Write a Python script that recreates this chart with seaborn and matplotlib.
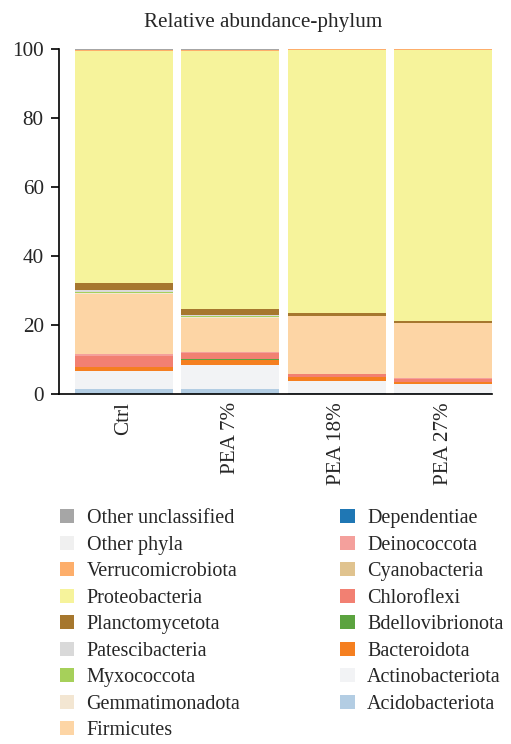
import matplotlib
matplotlib.use("Agg")
import matplotlib.pyplot as plt
from matplotlib.patches import Patch
import numpy as np
import seaborn as sns

groups = ["Ctrl", "PEA 7%", "PEA 18%", "PEA 27%"]

# stacking order: bottom -> top
phyla = ["Acidobacteriota", "Actinobacteriota", "Bacteroidota", "Bdellovibrionota",
         "Chloroflexi", "Cyanobacteria", "Deinococcota", "Dependentiae",
         "Firmicutes", "Gemmatimonadota", "Myxococcota", "Patescibacteria",
         "Planctomycetota", "Proteobacteria", "Verrucomicrobiota",
         "Other phyla", "Other unclassified"]

colors = ["#b3cde3", "#f2f3f5", "#f57f20", "#5ba33f",
          "#f28072", "#e0c38f", "#f4a09c", "#1f77b4",
          "#fdd5a5", "#f3e6d2", "#a6d05a", "#d9d9d9",
          "#a6772e", "#f6f39b", "#fdae6b",
          "#f0f0f0", "#a6a6a6"]

acidobacteriota   = [1.5, 1.4, 0.4, 0.3]
actinobacteriota  = [5.2, 6.9, 3.5, 2.5]
bacteroidota      = [1.2, 1.7, 1.1, 0.8]
bdellovibrionota  = [0.05, 0.05, 0.02, 0.02]
chloroflexi       = [2.95, 1.8, 0.7, 0.8]
cyanobacteria     = [0.1, 0.1, 0.05, 0.05]
deinococcota      = [0.6, 0.3, 0.1, 0.15]
dependentiae      = [0.05, 0.05, 0.03, 0.03]
firmicutes        = [17.2, 9.8, 16.7, 15.85]
gemmatimonadota   = [0.3, 0.2, 0.05, 0.05]
myxococcota       = [0.4, 0.4, 0.05, 0.05]
patescibacteria   = [0.5, 0.3, 0.05, 0.05]
planctomycetota   = [2.0, 1.7, 0.65, 0.6]
proteobacteria    = [67.3, 74.7, 76.2, 78.5]
verrucomicrobiota = [0.3, 0.3, 0.3, 0.15]
other_phyla       = [0.1, 0.1, 0.05, 0.05]
other_unclassified= [0.25, 0.2, 0.05, 0.05]

values = [acidobacteriota, actinobacteriota, bacteroidota, bdellovibrionota,
          chloroflexi, cyanobacteria, deinococcota, dependentiae,
          firmicutes, gemmatimonadota, myxococcota, patescibacteria,
          planctomycetota, proteobacteria, verrucomicrobiota,
          other_phyla, other_unclassified]

sns.set_style("white")
plt.rcParams['font.family'] = ['Liberation Serif', 'DejaVu Serif']

fs = 15.2
lfs = 14.5
fig = plt.figure(figsize=(5.11, 7.44), dpi=100)
ax = fig.add_axes([59/511, 1-394/744, (492-59)/511, (394-49)/744])

bottom = np.zeros(len(groups))
for name, vals, col in zip(phyla, values, colors):
    sns.barplot(x=groups, y=vals, bottom=bottom, color=col, width=0.92,
                errorbar=None, linewidth=0, saturation=1, ax=ax)
    bottom = bottom + np.array(vals)

ax.set_ylim(0, 100)
ax.set_xlim(-0.61, 3.46)
ax.set_yticks([0, 20, 40, 60, 80, 100])
ax.tick_params(axis='y', length=6, width=1.2, labelsize=fs, pad=5, color='black', left=True)
ax.tick_params(axis='x', length=0, labelsize=fs, pad=6, rotation=90)
for s in ["top", "right"]:
    ax.spines[s].set_visible(False)
for s in ["left", "bottom"]:
    ax.spines[s].set_color("black")
    ax.spines[s].set_linewidth(1.2)
ax.set_xlabel("")
ax.set_ylabel("")

fig.text(263/511, 1-22/744, "Relative abundance-phylum", ha='center', va='center', fontsize=fs)

handles = [Patch(facecolor=c, edgecolor='none', label=n) for n, c in zip(phyla, colors)][::-1]
fig.legend(handles=handles, ncol=2, loc='upper left', bbox_to_anchor=(60/511, 1-509/744),
           frameon=False, fontsize=lfs, handlelength=0.7, handleheight=0.7,
           handletextpad=0.62, columnspacing=4.97, labelspacing=0.37, borderaxespad=0, borderpad=0)

fig.savefig("out.png", dpi=100)
